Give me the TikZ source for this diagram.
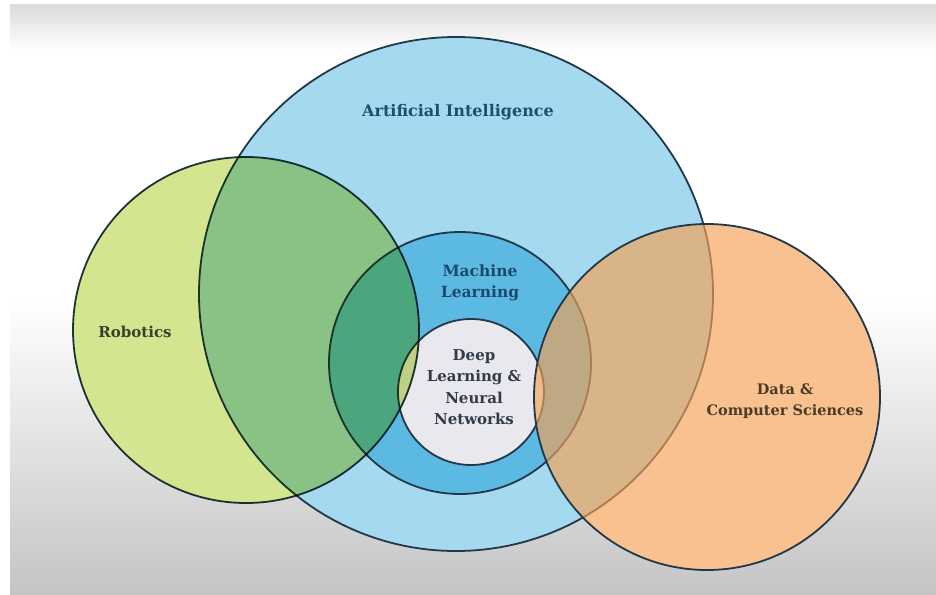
\documentclass[tikz,border=0pt]{standalone}
\usepackage{fontspec}
\setmainfont{DejaVu Serif}
\usepackage{tikz}

\definecolor{aiblue}{RGB}{165,217,240}
\definecolor{mlblue}{RGB}{92,185,226}
\definecolor{dlgray}{RGB}{232,232,238}
\definecolor{robogreen}{RGB}{211,229,142}
\definecolor{dataorange}{RGB}{245,161,83}
\definecolor{vennline}{RGB}{32,56,72}
\definecolor{aitext}{RGB}{29,78,107}
\definecolor{mltext}{RGB}{27,74,112}
\definecolor{dltext}{RGB}{51,58,72}
\definecolor{robtext}{RGB}{52,66,44}
\definecolor{datatext}{RGB}{75,59,37}

\begin{document}
\begin{tikzpicture}[x=1pt,y=-1pt,
  venn/.style={circle,draw=vennline,line width=1.8pt,inner sep=0pt,minimum size=#1},
  under/.style={circle,fill=white,inner sep=0pt,minimum size=#1},
  lbl/.style={font=\bfseries\fontsize{#1}{21.5}\selectfont,align=center}]
\useasboundingbox (0,0) rectangle (936,594);
% background
\shade[top color=black!14,bottom color=white] (10,5) rectangle (936,50);
\fill[white] (10,50) rectangle (936,300);
\shade[top color=white,bottom color=black!23] (10,300) rectangle (936,594);
% white underlay, so the outer circles stay clear of the grey
\node[under=346pt] (robbase) at (246,330) {};
\node[under=346pt] (database) at (707,397) {};
% circles
\node[venn=514pt,fill=aiblue] (ai) at (456,294) {};
\node[venn=262pt,fill=mlblue] (ml) at (460,363) {};
\node[venn=146pt,fill=dlgray] (dl) at (471,392) {};
\node[venn=346pt,fill=robogreen,blend mode=multiply] (robotics) at (246,330) {};
\node[venn=346pt,fill=dataorange,fill opacity=0.65] (data) at (707,397) {};
% labels
\node[lbl=16,text=aitext] (ailabel) at (458,112) {Artificial Intelligence};
\node[lbl=15.5,text=mltext] (mllabel) at (480,283) {Machine\\Learning};
\node[lbl=15,text=dltext] (dllabel) at (474,387) {Deep\\Learning \&\\Neural\\Networks};
\node[lbl=15,text=robtext] (roblabel) at (135,332) {Robotics};
\node[lbl=14.5,text=datatext] (datalabel) at (785,401) {Data \&\\Computer Sciences};
\end{tikzpicture}
\end{document}
